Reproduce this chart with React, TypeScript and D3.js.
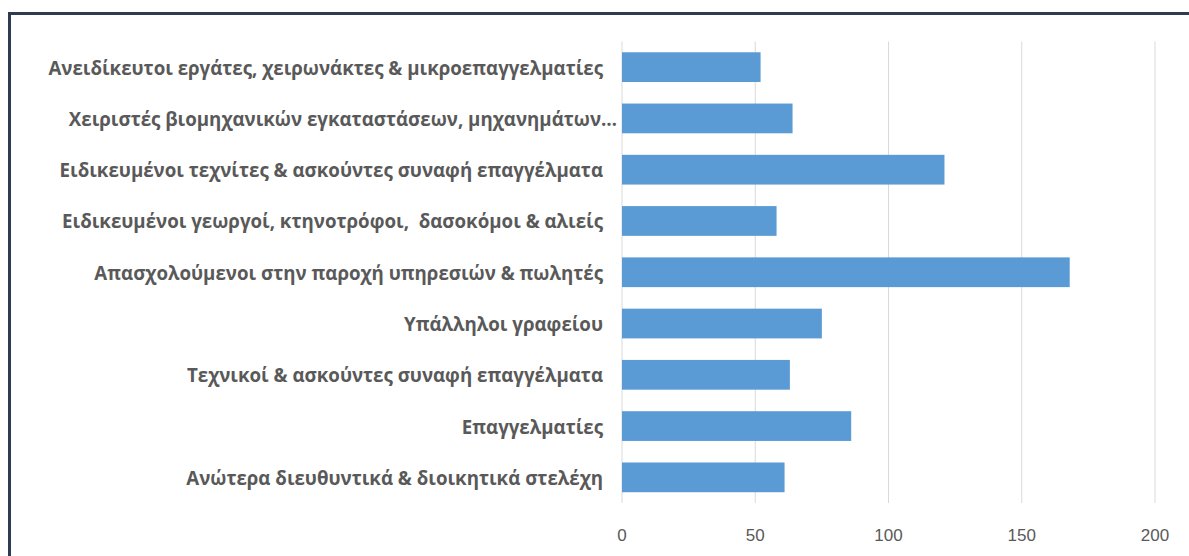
import React from "react";
import * as d3 from "d3";

const categories = [
  "Ανειδίκευτοι εργάτες, χειρωνάκτες & μικροεπαγγελματίες",
  "Χειριστές βιομηχανικών εγκαταστάσεων, μηχανημάτων…",
  "Ειδικευμένοι τεχνίτες & ασκούντες συναφή επαγγέλματα",
  "Ειδικευμένοι γεωργοί, κτηνοτρόφοι,  δασοκόμοι & αλιείς",
  "Απασχολούμενοι στην παροχή υπηρεσιών & πωλητές",
  "Υπάλληλοι γραφείου",
  "Τεχνικοί & ασκούντες συναφή επαγγέλματα",
  "Επαγγελματίες",
  "Ανώτερα διευθυντικά & διοικητικά στελέχη",
];
const values = [52, 64, 121, 58, 168, 75, 63, 86, 61];
const ticks = [0, 50, 100, 150, 200];

const W = 1189;
const H = 556;
const plotLeft = 622;
const plotRight = 1155;
const plotTop = 41.5;
const plotBottom = 503;

export default function App() {
  const x = d3.scaleLinear().domain([0, 200]).range([plotLeft, plotRight]);
  const y = d3
    .scaleBand<string>()
    .domain(categories)
    .range([plotTop, plotBottom])
    .paddingInner(0.42)
    .paddingOuter(0.21);
  const labelFont = "'Open Sans', 'Noto Sans', sans-serif";
  const tickFont = "'Liberation Sans', Arial, sans-serif";
  return (
    <svg
      width={W}
      height={H}
      style={{ position: "absolute", left: 0, top: 0, background: "#fff" }}
    >
      <rect x={0} y={0} width={W} height={H} fill="#fff" />
      {ticks.map((t) => (
        <line
          key={"g" + t}
          x1={x(t)}
          x2={x(t)}
          y1={plotTop}
          y2={plotBottom}
          stroke="#d9d9d9"
          strokeWidth={1}
        />
      ))}
      {categories.map((c, i) => (
        <rect
          key={"b" + i}
          x={x(0)}
          y={y(c)}
          width={x(values[i]) - x(0)}
          height={y.bandwidth()}
          fill="#5b9bd5"
        />
      ))}
      {categories.map((c, i) => (
        <text
          key={"l" + i}
          x={i === 1 ? 617 : 603}
          y={(y(c) as number) + y.bandwidth() / 2}
          textAnchor="end"
          dominantBaseline="central"
          fontFamily={labelFont}
          fontWeight={700}
          fontSize={18.7}
          fill="#595959"
          style={{ whiteSpace: "pre" }}
        >
          {c}
        </text>
      ))}
      {ticks.map((t) => (
        <text
          key={"t" + t}
          x={x(t)}
          y={535}
          textAnchor="middle"
          dominantBaseline="central"
          fontFamily={tickFont}
          fontSize={17}
          fill="#595959"
        >
          {t}
        </text>
      ))}
      <line x1={8} x2={W} y1={13.5} y2={13.5} stroke="#2f3b50" strokeWidth={3} />
      <line x1={9.5} x2={9.5} y1={12} y2={H} stroke="#2f3b50" strokeWidth={3} />
    </svg>
  );
}
